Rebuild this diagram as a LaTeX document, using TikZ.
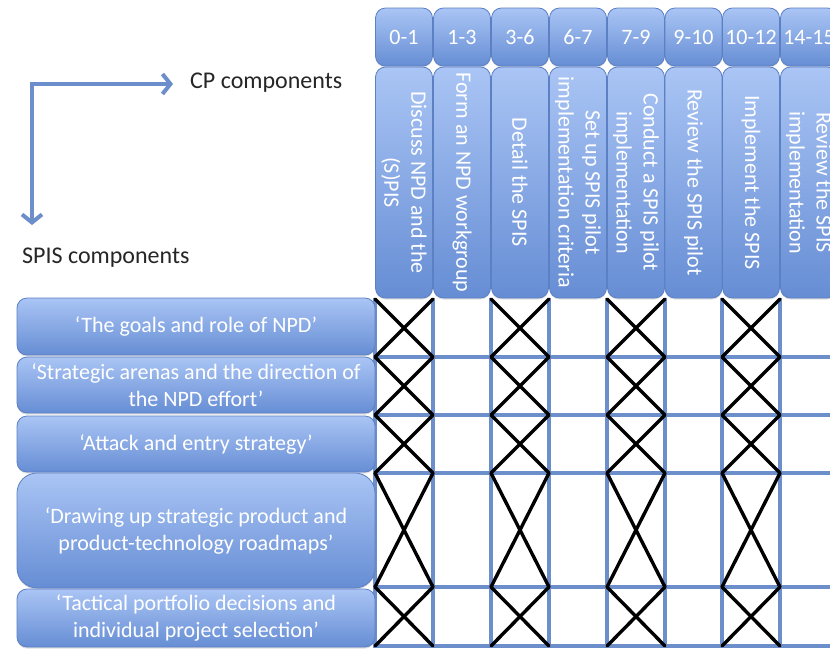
\documentclass[tikz,border=0pt]{standalone}
\usepackage{fontspec}
\setmainfont{Carlito}
\usetikzlibrary{arrows.meta,shadows}
\definecolor{boxtop}{RGB}{170,197,245}
\definecolor{boxbot}{RGB}{102,141,212}
\definecolor{boxedge}{RGB}{92,128,196}
\definecolor{gridblue}{RGB}{108,143,204}
\definecolor{arrowblue}{RGB}{108,143,204}
\begin{document}
\begin{tikzpicture}[x=1pt,y=-1pt,
  bluebox/.style={draw=boxedge, line width=0.8pt, top color=boxtop, bottom color=boxbot,
    text=white, font=\fontsize{22}{27}\selectfont, align=center, inner sep=0pt,
    rounded corners=10pt, drop shadow={shadow xshift=0pt, shadow yshift=-1.5pt, opacity=0.25}},
  numbox/.style={bluebox, minimum width=57pt, minimum height=58pt},
  colbox/.style={bluebox, rotate=-90, minimum width=231pt, minimum height=57pt},
  rowbox/.style={bluebox, minimum width=358pt},
  gridline/.style={draw=gridblue, line width=4pt},
  crossline/.style={draw=black, line width=3.4pt, line cap=round},
  axislabel/.style={inner sep=0pt, font=\fontsize{24}{28}\selectfont, text=black!85},
  axisarrow/.style={draw=arrowblue, line width=4pt, line join=miter}
]
\useasboundingbox (0,0) rectangle (830,648);
\clip (0,0) rectangle (830,648);
\fill[white] (0,0) rectangle (830,648);

% grid
\foreach \x in {375,433,491,549,607,665,722,780}
  \draw[gridline] (\x,298) -- (\x,648);
\foreach \y in {357,415,473,587,646}
  \draw[gridline] (375,\y) -- (830,\y);

% crosses
\foreach \x in {375,491,607,722}{
  \foreach \ya/\yb in {299/357,357/415,415/473,473/587,587/646}{
    \draw[crossline] (\x,\ya) -- (\x+58,\yb);
    \draw[crossline] (\x+58,\ya) -- (\x,\yb);
  }
}

% axis labels and arrows
\node[axislabel, anchor=west] (cp) at (190,83) {CP components};
\node[axislabel, anchor=west] (spis) at (22,258) {SPIS components};
\coordinate (corner) at (32,84);
\coordinate (tipv) at (32,225);
\coordinate (tiph) at (173,84);
\draw[axisarrow, {Straight Barb[length=8pt,width=20pt,line width=4pt]}-{Straight Barb[length=8pt,width=20pt,line width=4pt]}]
  (tipv) -- (corner) -- (tiph);

% number boxes
\foreach \i/\x/\t in {1/404/0-1, 2/462/1-3, 3/520/3-6, 4/578/6-7, 5/636/7-9, 6/693.5/9-10, 7/751/10-12, 8/809/14-15}
  \node[numbox] (n\i) at (\x,37) {\t};

% column boxes
\node[colbox] (c1) at (404,182.5) {Discuss NPD and the\\(S)PIS};
\node[colbox] (c2) at (462,182.5) {Form an NPD workgroup};
\node[colbox] (c3) at (520,182.5) {Detail the SPIS};
\node[colbox] (c4) at (578,182.5) {Set up SPIS pilot\\implementation criteria};
\node[colbox] (c5) at (636,182.5) {Conduct a SPIS pilot\\implementation};
\node[colbox] (c6) at (693.5,182.5) {Review the SPIS pilot};
\node[colbox] (c7) at (751,182.5) {Implement the SPIS};
\node[colbox] (c8) at (809,182.5) {Review the SPIS\\implementation};

% row boxes
\node[rowbox, minimum height=57pt] (r1) at (196,326.5) {‘The goals and role of NPD’};
\node[rowbox, minimum height=56pt] (r2) at (196,385) {‘Strategic arenas and the direction of\\the NPD effort’};
\node[rowbox, minimum height=56pt] (r3) at (196,444) {‘Attack and entry strategy’};
\node[rowbox, minimum height=115pt, rounded corners=20pt] (r4) at (196,530.5) {‘Drawing up strategic product and\\product-technology roadmaps’};
\node[rowbox, minimum height=58pt] (r5) at (196,618) {‘Tactical portfolio decisions and\\individual project selection’};
\end{tikzpicture}
\end{document}
